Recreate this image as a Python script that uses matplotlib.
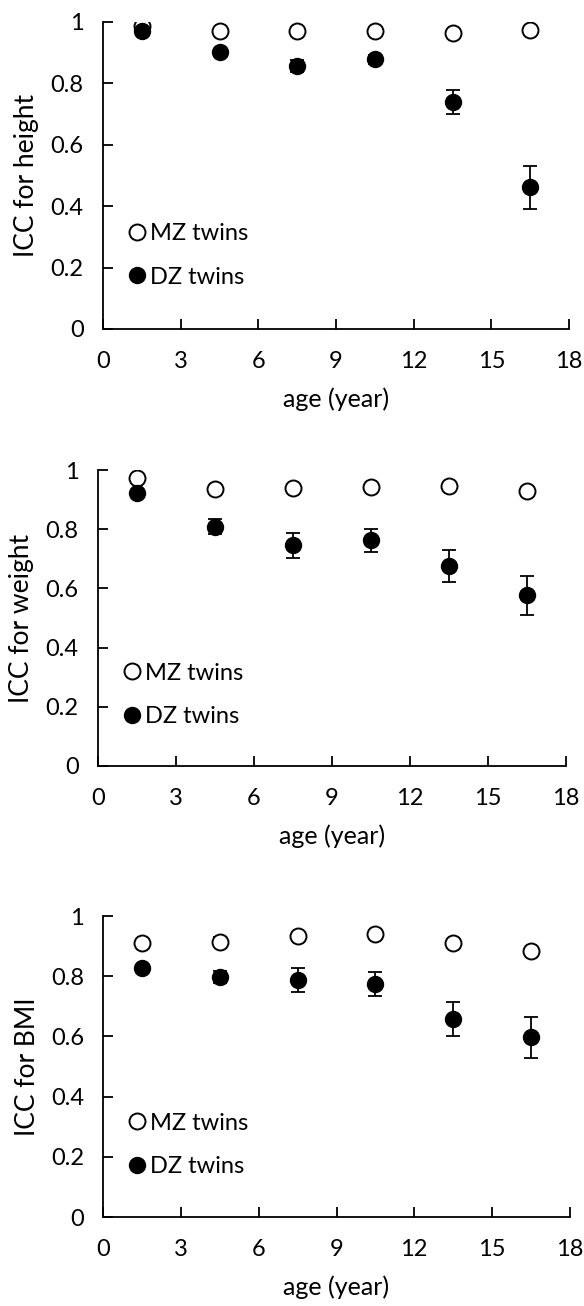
import matplotlib
matplotlib.use("Agg")
import matplotlib.pyplot as plt

plt.rcParams['font.family'] = ['Lato', 'DejaVu Sans']

# ages (year) at which ICC was estimated
ages = [1.5, 4.5, 7.5, 10.5, 13.5, 16.5]

# height
mz_height = [0.986, 0.970, 0.972, 0.972, 0.964, 0.974]
mz_height_err = [0.005, 0.005, 0.005, 0.005, 0.005, 0.005]
dz_height = [0.972, 0.903, 0.856, 0.878, 0.739, 0.461]
dz_height_err = [0.008, 0.010, 0.020, 0.015, 0.040, 0.070]

# weight
mz_weight = [0.972, 0.935, 0.940, 0.941, 0.945, 0.928]
mz_weight_err = [0.006, 0.012, 0.006, 0.006, 0.006, 0.006]
dz_weight = [0.922, 0.808, 0.745, 0.762, 0.676, 0.577]
dz_weight_err = [0.010, 0.025, 0.041, 0.039, 0.053, 0.066]

# BMI
mz_bmi = [0.909, 0.915, 0.934, 0.940, 0.912, 0.885]
mz_bmi_err = [0.006, 0.015, 0.006, 0.006, 0.006, 0.006]
dz_bmi = [0.827, 0.799, 0.788, 0.773, 0.658, 0.597]
dz_bmi_err = [0.010, 0.020, 0.041, 0.040, 0.055, 0.067]

ylabels = ['ICC for height', 'ICC for weight', 'ICC for BMI']
xticks = [0, 3, 6, 9, 12, 15, 18]
yticks = [0, 0.2, 0.4, 0.6, 0.8, 1]
ytick_labels = ['0', '0.2', '0.4', '0.6', '0.8', '1']

panels = [
    (mz_height, mz_height_err, dz_height, dz_height_err),
    (mz_weight, mz_weight_err, dz_weight, dz_weight_err),
    (mz_bmi, mz_bmi_err, dz_bmi, dz_bmi_err),
]
# axes rectangles [left, bottom, width, height] in figure fraction
rects = [
    [0.1764, 0.7481, 0.798, 0.2351],
    [0.1678, 0.4135, 0.8014, 0.2266],
    [0.1772, 0.0681, 0.798, 0.2305],
]

fig = plt.figure(figsize=(5.84, 13.06), dpi=100)
fs = 17
lw = 1.3

for (mz, mz_err, dz, dz_err), rect, ylab in zip(panels, rects, ylabels):
    ax = fig.add_axes(rect)
    ax.errorbar(ages, mz, yerr=mz_err, fmt='o', ms=11.5, mfc='white', mec='black',
                mew=1.4, ecolor='black', elinewidth=lw, capsize=5, capthick=lw,
                label='MZ twins', zorder=3)
    ax.errorbar(ages, dz, yerr=dz_err, fmt='o', ms=11.5, mfc='black', mec='black',
                ecolor='black', elinewidth=lw, capsize=5, capthick=lw,
                label='DZ twins', zorder=4)
    ax.set_xlim(0, 18)
    ax.set_ylim(0, 1)
    ax.set_xticks(xticks)
    ax.set_yticks(yticks)
    ax.set_yticklabels(ytick_labels)
    ax.spines['top'].set_visible(False)
    ax.spines['right'].set_visible(False)
    for s in ('left', 'bottom'):
        ax.spines[s].set_linewidth(lw)
    ax.tick_params(axis='x', direction='in', length=7, width=lw, pad=16, labelsize=fs)
    ax.tick_params(axis='y', direction='in', length=7, width=lw, pad=14, labelsize=fs)
    ax.set_xlabel('age (year)', fontsize=18, labelpad=11)
    ax.set_ylabel(ylab, fontsize=19, labelpad=8)
    handles, labels = ax.get_legend_handles_labels()
    handles = [h[0] for h in handles]
    ax.legend(handles, labels, loc='center left', bbox_to_anchor=(0.052, 0.24),
              frameon=False, fontsize=fs, handlelength=0.8, handletextpad=0.15,
              labelspacing=0.95, borderaxespad=0, borderpad=0)

fig.savefig('out.png', dpi=100)
